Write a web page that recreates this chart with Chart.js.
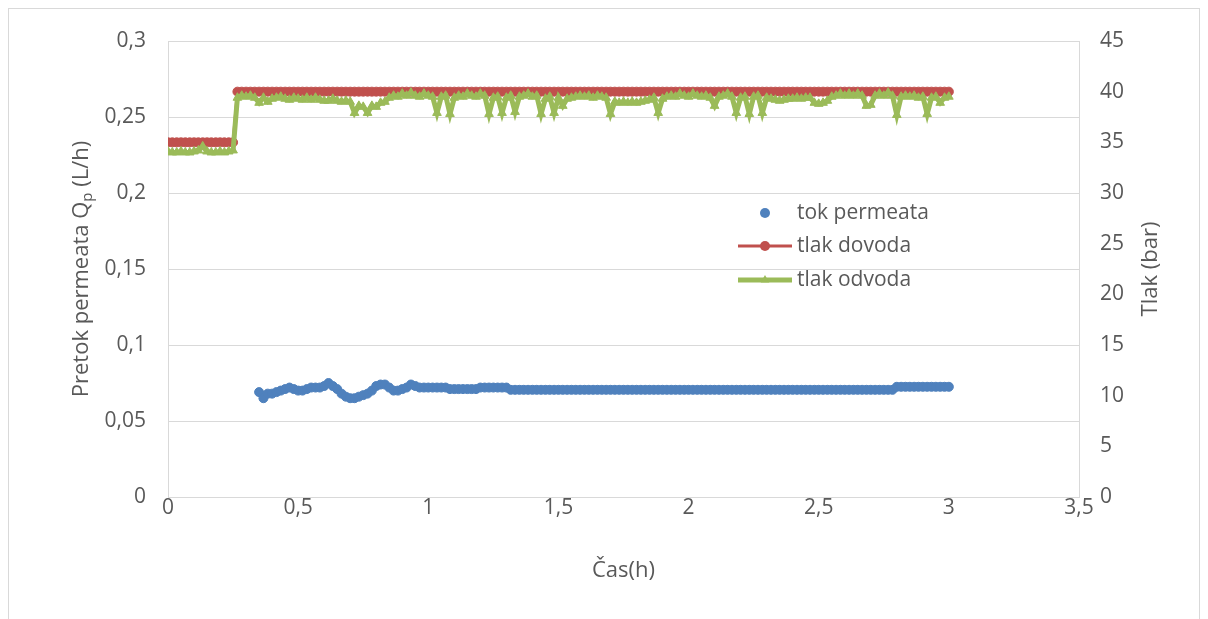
<!DOCTYPE html>
<html><head><meta charset="utf-8">
<script src="https://cdn.jsdelivr.net/npm/chart.js@4/dist/chart.umd.min.js"></script>
<style>html,body{margin:0;padding:0;background:#fff}#wrap{position:relative;width:1208px;height:619px}</style>
</head><body><div id="wrap"><canvas id="c" width="1208" height="619"></canvas></div>
<script>
// time of each reading, minutes
const timeMin=[0,1,2,3,4,5,6,7,8,9,10,11,12,13,14,15,16,17,18,19,20,21,22,23,24,25,26,27,28,29,30,31,32,33,34,35,36,37,38,39,40,41,42,43,44,45,46,47,48,49,50,51,52,53,54,55,56,57,58,59,60,61,62,63,64,65,66,67,68,69,70,71,72,73,74,75,76,77,78,79,80,81,82,83,84,85,86,87,88,89,90,91,92,93,94,95,96,97,98,99,100,101,102,103,104,105,106,107,108,109,110,111,112,113,114,115,116,117,118,119,120,121,122,123,124,125,126,127,128,129,130,131,132,133,134,135,136,137,138,139,140,141,142,143,144,145,146,147,148,149,150,151,152,153,154,155,156,157,158,159,160,161,162,163,164,165,166,167,168,169,170,171,172,173,174,175,176,177,178,179,180];
// tok permeata (L/h)
const tokPermeata=[null,null,null,null,null,null,null,null,null,null,null,null,null,null,null,null,null,null,null,null,null,
0.069,0.065,0.068,0.068,0.069,0.070,0.071,0.072,0.071,0.070,0.070,0.071,0.072,0.072,0.072,0.073,0.075,0.073,0.071,0.068,0.066,0.065,0.065,0.066,0.067,0.068,0.070,0.073,0.074,0.074,0.072,0.070,0.070,0.071,0.072,0.074,0.073,0.072,0.072,
0.072,0.072,0.072,0.072,0.072,
0.071,0.071,0.071,0.071,0.071,0.071,0.071,
0.072,0.072,0.072,0.072,0.072,0.072,0.072,
0.0705,0.0705,0.0705,0.0705,0.0705,0.0705,0.0705,0.0705,0.0705,0.0705,0.0705,0.0705,0.0705,0.0705,0.0705,0.0705,0.0705,0.0705,0.0705,0.0705,0.0705,0.0705,0.0705,0.0705,0.0705,0.0705,0.0705,0.0705,0.0705,0.0705,0.0705,0.0705,0.0705,0.0705,0.0705,0.0705,0.0705,0.0705,0.0705,0.0705,0.0705,0.0705,0.0705,0.0705,0.0705,0.0705,0.0705,0.0705,0.0705,0.0705,0.0705,0.0705,0.0705,0.0705,0.0705,0.0705,0.0705,0.0705,0.0705,0.0705,0.0705,0.0705,0.0705,0.0705,0.0705,0.0705,0.0705,0.0705,0.0705,0.0705,0.0705,0.0705,0.0705,0.0705,0.0705,0.0705,0.0705,0.0705,0.0705,0.0705,0.0705,0.0705,0.0705,0.0705,0.0705,0.0705,0.0705,0.0705,0.0705,
0.0725,0.0725,0.0725,0.0725,0.0725,0.0725,0.0725,0.0725,0.0725,0.0725,0.0725,0.0725,0.0725];
// tlak dovoda (bar)
const tlakDovoda=[35,35,35,35,35,35,35,35,35,35,35,35,35,35,35,35,
40,40,40,40,40,40,40,40,40,40,40,40,40,40,40,
40,40,40,40,40,40,40,40,40,40,40,40,40,40,40,
40,40,40,40,40,40,40,40,40,40,40,40,40,40,40,
40,40,40,40,40,40,40,40,40,40,40,40,40,40,40,
40,40,40,40,40,40,40,40,40,40,40,40,40,40,40,
40,40,40,40,40,40,40,40,40,40,40,40,40,40,40,
40,40,40,40,40,40,40,40,40,40,40,40,40,40,40,
40,40,40,40,40,40,40,40,40,40,40,40,40,40,40,
40,40,40,40,40,40,40,40,40,40,40,40,40,40,40,
40,40,40,40,40,40,40,40,40,40,40,40,40,40,40,
40,40,40,40,40,40,40,40,40,40,40,40,40,40,40];
// tlak odvoda (bar)
const tlakOdvoda=[34.1,34.0,34.0,34.1,34.0,34.0,34.1,34.2,34.6,34.1,34.0,34.0,34.1,34.0,34.1,34.2,
39.4,39.6,39.5,39.6,39.4,
38.9,39.4,39.0,
39.3,39.4,39.5,39.3,39.2,39.4,39.3,39.2,39.4,39.2,39.4,39.2,39.1,39.1,39.3,39.1,39.0,39.1,39.0,
37.9,38.6,38.5,37.9,38.6,38.5,38.9,39.0,39.4,39.6,39.5,39.8,39.6,39.9,39.6,39.5,39.8,39.6,39.5,
37.9,39.5,39.6,37.8,39.4,39.6,39.5,39.8,39.6,39.5,39.8,39.6,
37.8,39.4,39.5,37.9,39.4,39.6,38.0,39.5,39.6,39.8,39.5,39.6,
37.8,39.3,39.5,37.9,39.4,38.6,39.3,39.4,39.5,39.6,39.5,39.6,39.4,39.6,39.5,39.4,
37.8,39.0,38.9,39.0,38.9,39.0,38.9,39.0,39.1,39.2,39.4,
37.9,39.3,39.5,39.6,39.5,39.8,39.6,39.5,39.8,39.6,39.5,39.6,39.4,
38.6,39.5,39.6,39.8,39.5,
37.9,39.4,39.5,
37.8,39.5,39.6,37.9,39.4,39.3,39.2,39.1,39.2,39.3,39.3,39.4,39.3,39.4,39.4,38.9,38.8,38.9,39.1,39.5,39.6,39.8,39.6,39.8,39.6,39.8,39.6,38.6,38.7,39.6,39.8,39.6,39.9,39.6,
37.7,39.5,39.6,39.5,39.6,39.4,39.5,37.8,39.4,39.5,38.9,39.4,39.5];
const seriesNames=['tok permeata','tlak dovoda','tlak odvoda'];
const seriesColors=['#4F81BD','#C0504D','#9BBB59'];
const xTitle='Čas(h)';
const yTitleMain='Pretok permeata Q', yTitleSub='p', yTitleTail=' (L/h)';
const y2Title='Tlak (bar)';

const FONT='"Open Sans", sans-serif';
const TXT='#595959', GRID='#d9d9d9';
const fmt=v=>String(Number(v.toFixed(3))).replace('.',',');
const pts=arr=>timeMin.map((m,i)=>({x:m/60,y:arr[i]})).filter(p=>p.y!==null);

const decor={
  id:'decor',
  beforeDraw(chart){
    const c=chart.ctx;
    c.save();c.fillStyle='#fff';c.fillRect(0,0,chart.width,chart.height);
    c.strokeStyle=GRID;c.lineWidth=1;c.strokeRect(8.5,8.5,1191,700);c.restore();
  },
  afterDraw(chart){
    const c=chart.ctx, ca=chart.chartArea;
    c.save();
    c.fillStyle=TXT;c.textBaseline='middle';
    c.font='22px '+FONT;c.textAlign='center';
    c.fillText(xTitle,(ca.left+ca.right)/2,571);
    const cy=(ca.top+ca.bottom)/2;
    c.save();c.translate(82,cy);c.rotate(-Math.PI/2);c.textAlign='left';
    c.font='22px '+FONT;const w1=c.measureText(yTitleMain).width, w3=c.measureText(yTitleTail).width;
    c.font='15px '+FONT;const w2=c.measureText(yTitleSub).width;
    let x0=-(w1+w2+w3)/2;
    c.font='22px '+FONT;c.fillText(yTitleMain,x0,0);
    c.font='15px '+FONT;c.fillText(yTitleSub,x0+w1,6);
    c.font='22px '+FONT;c.fillText(yTitleTail,x0+w1+w2,0);
    c.restore();
    c.save();c.translate(1151,cy);c.rotate(-Math.PI/2);c.textAlign='center';c.font='22px '+FONT;
    c.fillText(y2Title,0,0);c.restore();
    const lx=765, ly=[213,246,280];
    c.font='21px '+FONT;c.textAlign='left';
    seriesNames.forEach((n,i)=>{
      const y=ly[i];
      c.strokeStyle=seriesColors[i];c.fillStyle=seriesColors[i];
      if(i>0){c.lineWidth=i===2?5:3;c.beginPath();c.moveTo(lx-27,y);c.lineTo(lx+27,y);c.stroke();}
      c.beginPath();
      if(i<2){c.arc(lx,y,5,0,Math.PI*2);}
      else{c.moveTo(lx,y-5);c.lineTo(lx+4.3,y+2.5);c.lineTo(lx-4.3,y+2.5);c.closePath();}
      c.fill();
      c.fillStyle=TXT;c.fillText(n,797,y);
    });
    c.restore();
  }
};

new Chart(document.getElementById('c'),{
  type:'scatter',
  data:{datasets:[
    {label:seriesNames[0],data:pts(tokPermeata),yAxisID:'y',showLine:false,pointRadius:4.5,pointBorderWidth:1,
      backgroundColor:seriesColors[0],borderColor:seriesColors[0],order:2},
    {label:seriesNames[1],data:pts(tlakDovoda),yAxisID:'y2',showLine:true,borderWidth:3,pointRadius:4.5,pointBorderWidth:1,
      backgroundColor:seriesColors[1],borderColor:seriesColors[1],order:1},
    {label:seriesNames[2],data:pts(tlakOdvoda),yAxisID:'y2',showLine:true,borderWidth:5,pointStyle:'triangle',pointRadius:5,pointBorderWidth:1,
      backgroundColor:seriesColors[2],borderColor:seriesColors[2],order:0}
  ]},
  options:{
    responsive:false,animation:false,
    layout:{padding:{top:41,left:0,right:0,bottom:0}},
    plugins:{legend:{display:false},tooltip:{enabled:false}},
    scales:{
      x:{type:'linear',min:0,max:3.5,
        ticks:{stepSize:0.5,callback:fmt,color:TXT,font:{family:FONT,size:21},padding:-2,maxRotation:0},
        grid:{display:false,drawTicks:false},border:{display:true,color:GRID},
        afterFit(s){s.height=122;}},
      y:{position:'left',min:0,max:0.3,
        ticks:{stepSize:0.05,callback:fmt,color:TXT,font:{family:FONT,size:21},padding:22},
        grid:{color:GRID,drawTicks:false},border:{display:true,color:GRID},
        afterFit(s){s.width=168;}},
      y2:{position:'right',min:0,max:45,
        ticks:{stepSize:5,callback:fmt,color:TXT,font:{family:FONT,size:21},padding:21},
        grid:{display:false,drawTicks:false},border:{display:true,color:GRID},
        afterFit(s){s.width=129;}}
    }
  },
  plugins:[decor]
});
</script></body></html>
